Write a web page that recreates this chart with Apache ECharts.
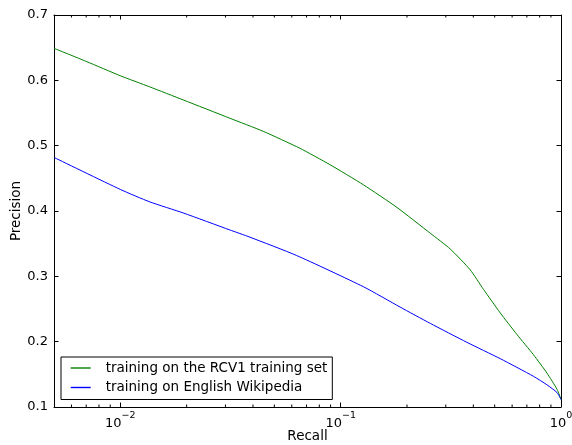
<!DOCTYPE html>
<html>
<head>
<meta charset="utf-8">
<script src="https://cdn.jsdelivr.net/npm/echarts@6/dist/echarts.min.js"></script>
<style>
  html, body { margin: 0; padding: 0; background: #fff; overflow: hidden; }
  #chart { width: 572px; height: 445px; }
</style>
</head>
<body>
<div id="chart"></div>
<script>
// Precision-recall curves for the two training setups
const seriesNames = ['training on the RCV1 training set', 'training on English Wikipedia'];
const seriesColors = ['#008000', '#0000ff'];

const rcvRecall = [0.005, 0.007, 0.01, 0.0136, 0.0193, 0.0314, 0.0445, 0.0653, 0.0893, 0.127, 0.18, 0.255, 0.314, 0.387, 0.445, 0.53, 0.631, 0.75, 0.863, 0.96, 1.0];
const rcvPrecision = [0.649, 0.629, 0.607, 0.590, 0.570, 0.542, 0.522, 0.496, 0.471, 0.440, 0.4055, 0.366, 0.342, 0.310, 0.280, 0.244, 0.211, 0.180, 0.152, 0.127, 0.1115];

const wikiRecall = [0.005, 0.01, 0.0136, 0.0193, 0.0314, 0.0387, 0.063, 0.127, 0.186, 0.255, 0.374, 0.53, 0.75, 0.863, 0.96, 1.0];
const wikiPrecision = [0.482, 0.433, 0.414, 0.397, 0.371, 0.360, 0.332, 0.284, 0.253, 0.228, 0.199, 0.174, 0.147, 0.134, 0.122, 0.1115];

// Axis ranges and tick values
const recallRange = [0.005, 1];
const precisionRange = [0.1, 0.7];
const precisionStep = 0.1;
const minorRecallTicks = [0.006, 0.007, 0.008, 0.009,
  0.02, 0.03, 0.04, 0.05, 0.06, 0.07, 0.08, 0.09,
  0.2, 0.3, 0.4, 0.5, 0.6, 0.7, 0.8, 0.9];

const FONT = 'DejaVu Sans';
const BLACK = '#000000';

function pairs(xs, ys) { return xs.map((x, i) => [x, ys[i]]); }

function powerLabel(v) {
  const e = Math.round(Math.log10(v));
  if (Math.abs(v - Math.pow(10, e)) / v > 1e-6) return '';
  const exp = (e < 0 ? '\u2212' : '') + Math.abs(e);
  return '{b|10}{s|' + exp + '}';
}

const chart = echarts.init(document.getElementById('chart'), null, {
  renderer: 'canvas', width: 572, height: 445
});

const axisLineStyle = { show: true, lineStyle: { color: BLACK, width: 1 } };
const majorTick = { show: true, inside: true, length: 4.5, lineStyle: { color: BLACK, width: 1 } };

const option = {
  backgroundColor: '#ffffff',
  animation: false,
  textStyle: { fontFamily: FONT },
  grid: { left: 54, top: 15, right: 11, bottom: 38, containLabel: false, outerBoundsMode: 'none' },
  legend: {
    orient: 'vertical',
    left: 61,
    top: 357,
    padding: [3.5, 5, 4.5, 9],
    itemGap: 4.5,
    itemWidth: 20,
    itemHeight: 15,
    itemStyle: { opacity: 0 },
    borderColor: BLACK,
    borderWidth: 1,
    borderRadius: 0,
    backgroundColor: '#ffffff',
    textStyle: { fontFamily: FONT, fontSize: 13.5, color: BLACK, lineHeight: 15, padding: [0, 0, 0, 10] },
    data: seriesNames.map((n, i) => ({
      name: n,
      itemStyle: { opacity: 0 },
      lineStyle: { color: seriesColors[i], width: 1.4, opacity: 1, type: 'solid' }
    }))
  },
  xAxis: [
    {
      type: 'log',
      min: recallRange[0],
      max: recallRange[1],
      position: 'bottom',
      name: 'Recall',
      nameLocation: 'middle',
      nameGap: 22,
      nameMoveOverlap: false,
      nameTextStyle: { fontFamily: FONT, fontSize: 13.5, color: BLACK },
      axisLine: axisLineStyle,
      axisTick: majorTick,
      axisLabel: {
        margin: 4,
        color: BLACK,
        formatter: powerLabel,
        rich: {
          b: { fontFamily: FONT, fontSize: 13, color: BLACK, lineHeight: 19, verticalAlign: 'bottom' },
          s: { fontFamily: FONT, fontSize: 9.5, color: BLACK, lineHeight: 19, verticalAlign: 'top' }
        }
      },
      splitLine: { show: false },
      minorTick: { show: false }
    },
    {
      type: 'log',
      min: recallRange[0],
      max: recallRange[1],
      position: 'top',
      axisLine: axisLineStyle,
      axisTick: majorTick,
      axisLabel: { show: false },
      splitLine: { show: false }
    }
  ],
  yAxis: [
    {
      type: 'value',
      min: precisionRange[0],
      max: precisionRange[1],
      interval: precisionStep,
      position: 'left',
      name: 'Precision',
      nameLocation: 'middle',
      nameGap: 31,
      nameMoveOverlap: false,
      nameRotate: 90,
      nameTextStyle: { fontFamily: FONT, fontSize: 13.5, color: BLACK },
      axisLine: axisLineStyle,
      axisTick: majorTick,
      axisLabel: { margin: 6, fontFamily: FONT, fontSize: 13, color: BLACK, formatter: v => v.toFixed(1) },
      splitLine: { show: false }
    },
    {
      type: 'value',
      min: precisionRange[0],
      max: precisionRange[1],
      interval: precisionStep,
      position: 'right',
      axisLine: axisLineStyle,
      axisTick: majorTick,
      axisLabel: { show: false },
      splitLine: { show: false }
    }
  ],
  series: [
    {
      name: seriesNames[0],
      type: 'line',
      xAxisIndex: 0,
      yAxisIndex: 0,
      data: pairs(rcvRecall, rcvPrecision),
      showSymbol: false,
      symbol: 'none',
      smooth: 0.2,
      lineStyle: { color: seriesColors[0], width: 1 },
      itemStyle: { color: seriesColors[0] },
      z: 3
    },
    {
      name: seriesNames[1],
      type: 'line',
      xAxisIndex: 0,
      yAxisIndex: 0,
      data: pairs(wikiRecall, wikiPrecision),
      showSymbol: false,
      symbol: 'none',
      smooth: 0.2,
      lineStyle: { color: seriesColors[1], width: 1 },
      itemStyle: { color: seriesColors[1] },
      z: 3
    },
    {
      // minor ticks of the logarithmic recall axis, bottom and top edges
      type: 'custom',
      xAxisIndex: 0,
      yAxisIndex: 0,
      silent: true,
      clip: false,
      data: minorRecallTicks.map(v => [v, precisionRange[0]]),
      renderItem: function (params, api) {
        const v = api.value(0);
        const b = api.coord([v, precisionRange[0]]);
        const t = api.coord([v, precisionRange[1]]);
        const style = { stroke: BLACK, lineWidth: 1 };
        return {
          type: 'group',
          children: [
            { type: 'line', shape: { x1: b[0], y1: b[1], x2: b[0], y2: b[1] - 2.5 }, style: style },
            { type: 'line', shape: { x1: t[0], y1: t[1], x2: t[0], y2: t[1] + 2.5 }, style: style }
          ]
        };
      },
      z: 4
    }
  ]
};

chart.setOption(option);
</script>
</body>
</html>
